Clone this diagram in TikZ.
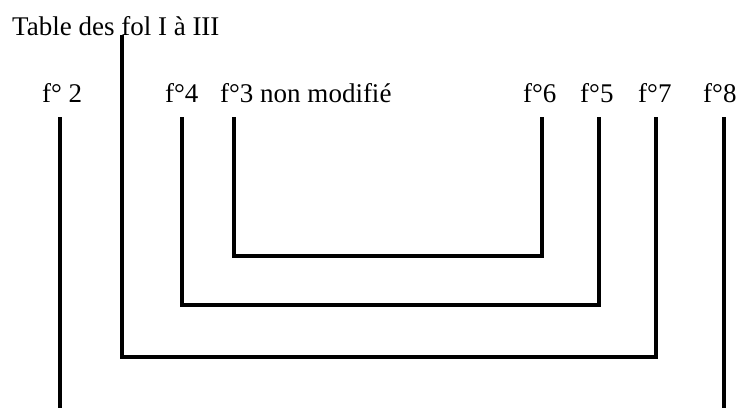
\documentclass[tikz,border=0pt]{standalone}
\usepackage{fontspec}
\setmainfont{Liberation Serif}
\begin{document}
\begin{tikzpicture}[x=1pt,y=-1pt,
  lbl/.style={anchor=base west, inner sep=0pt, font=\fontsize{27}{32}\selectfont},
  bracket/.style={line width=3.5pt, line join=miter, line cap=butt}]
\useasboundingbox (0,0) rectangle (738,407);
\node[lbl] (title) at (12,35) {Table des fol I à III};
\node[lbl] (f2) at (42,102) {f° 2};
\node[lbl] (f4) at (165,102) {f°4};
\node[lbl] (f3) at (220,102) {f°3 non modifié};
\node[lbl] (f6) at (523,102) {f°6};
\node[lbl] (f5) at (580,102) {f°5};
\node[lbl] (f7) at (638,102) {f°7};
\node[lbl] (f8) at (703,102) {f°8};
\coordinate (tt) at (122,35);
\coordinate (t2) at (60,117);
\coordinate (t4) at (182,117);
\coordinate (t3) at (234,117);
\coordinate (t6) at (542,117);
\coordinate (t5) at (599,117);
\coordinate (t7) at (656,117);
\coordinate (t8) at (724,117);
\coordinate (h1) at (0,256);
\coordinate (h2) at (0,305);
\coordinate (h3) at (0,357);
\coordinate (h4) at (0,410);
\draw[bracket] (t3) -- (t3 |- h1) -| (t6);
\draw[bracket] (t4) -- (t4 |- h2) -| (t5);
\draw[bracket] (tt) -- (tt |- h3) -| (t7);
\draw[bracket] (t2) -- (t2 |- h4);
\draw[bracket] (t8) -- (t8 |- h4);
\end{tikzpicture}
\end{document}
